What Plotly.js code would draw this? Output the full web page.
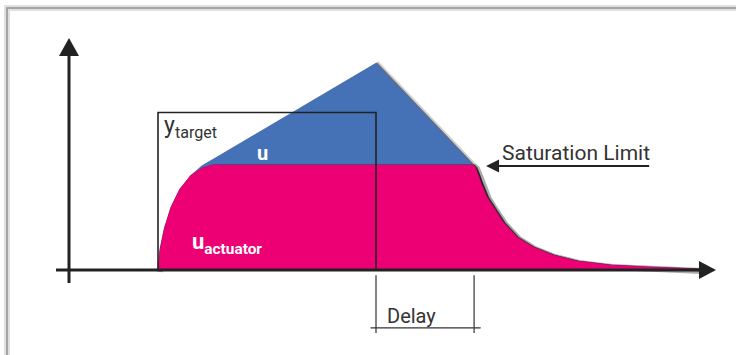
<!DOCTYPE html>
<html>
<head>
<meta charset="utf-8">
<script src="https://cdn.plot.ly/plotly-3.0.1.min.js"></script>
<style>
  html, body { margin: 0; padding: 0; background: #fff; }
  #graph { width: 736px; height: 355px; }
</style>
</head>
<body>
<div id="graph"></div>
<script>
// time axis: step starts at t = 0, target ends at t = 10
// amplitude: saturation limit = 1, target = 1.5

var tU = [0, 0.1, 0.3, 0.6, 1.0, 1.5, 2.0, 10.0, 14.45, 14.55, 14.65, 14.8, 15.09, 15.37, 15.83, 16.47, 17.2, 18.12, 19.22, 20.73, 22.43, 24.86];
var u = [0, 0.2, 0.4, 0.6, 0.77, 0.9, 0.99, 1.97, 1.0, 0.98, 0.93, 0.84, 0.695, 0.6, 0.457, 0.314, 0.219, 0.143, 0.086, 0.048, 0.029, 0.01];

var tAct = [0, 0.1, 0.3, 0.6, 1.0, 1.5, 2.0, 2.5, 14.45, 14.55, 14.65, 14.8, 15.09, 15.37, 15.83, 16.47, 17.2, 18.12, 19.22, 20.73, 22.43, 24.86];
var uActuator = [0, 0.2, 0.4, 0.6, 0.77, 0.9, 0.97, 1.0, 1.0, 0.98, 0.93, 0.84, 0.695, 0.6, 0.457, 0.314, 0.219, 0.143, 0.086, 0.048, 0.029, 0.01];

var tTarget = [0, 0, 10, 10];
var yTarget = [0, 1.5, 1.5, 0];

var saturation = 1.0;
var delayStart = 10;
var delayEnd = 14.5;

// pixel scale of the drawing
var pxPerT = 21.8;
var pxPerY = 105;
var x0px = 158, y0px = 270;

var blue = '#4571b7';
var pink = '#ec0074';
var ink = '#222222';

function shift(arr, d) {
    return arr.map(function (v) { return v + d; });
}

var dx = 2 / pxPerT, dy = -2 / pxPerY;

var traces = [
    { x: shift(tU, dx), y: shift(u, dy), type: 'scatter', mode: 'lines', fill: 'tozeroy',
      fillcolor: 'rgba(0,0,0,0.2)', line: { color: 'rgba(0,0,0,0.18)', width: 6 } },
    { x: shift(tU, dx / 2), y: shift(u, dy / 2), type: 'scatter', mode: 'lines',
      line: { color: 'rgba(0,0,0,0.45)', width: 2.5 } },
    { x: tU, y: u, type: 'scatter', mode: 'lines', fill: 'tozeroy', fillcolor: blue,
      line: { color: blue, width: 0.5 }, name: 'u' },
    { x: shift(tAct, dx), y: shift(uActuator, dy), type: 'scatter', mode: 'lines', fill: 'tozeroy',
      fillcolor: 'rgba(0,0,0,0.2)', line: { color: 'rgba(0,0,0,0.18)', width: 6 } },
    { x: shift(tAct, dx / 2), y: shift(uActuator, dy / 2), type: 'scatter', mode: 'lines',
      line: { color: 'rgba(0,0,0,0.45)', width: 2.5 } },
    { x: tAct, y: uActuator, type: 'scatter', mode: 'lines', fill: 'tozeroy', fillcolor: pink,
      line: { color: pink, width: 0.5 }, name: 'u actuator' },
    { x: tTarget, y: yTarget, type: 'scatter', mode: 'lines',
      line: { color: ink, width: 1.6 }, name: 'y target' }
];

// axis ends
var yAxT = (69 - x0px) / pxPerT;
var xAxStart = (56 - x0px) / pxPerT;
var xAxEnd = (699 - x0px) / pxPerT;
var xTip = (716 - x0px) / pxPerT;
var yAxBottom = (y0px - 283) / pxPerY;
var yAxEnd = (y0px - 56) / pxPerY;
var yTip = (y0px - 38) / pxPerY;
var halfW = 10 / pxPerT;
var halfH = 9 / pxPerY;

var shapes = [
    // card border shadow
    { type: 'rect', xref: 'paper', yref: 'paper', x0: 7 / 736, x1: 1.05, y0: -0.05, y1: 1 - 8 / 355,
      line: { color: 'rgba(0,0,0,0.12)', width: 6 } },
    { type: 'rect', xref: 'paper', yref: 'paper', x0: 7 / 736, x1: 1.05, y0: -0.05, y1: 1 - 8 / 355,
      line: { color: 'rgba(0,0,0,0.35)', width: 1.5 } },
    // axes
    { type: 'line', x0: yAxT, x1: yAxT, y0: yAxBottom, y1: yAxEnd, line: { color: ink, width: 3 } },
    { type: 'line', x0: xAxStart, x1: xAxEnd, y0: 0, y1: 0, line: { color: ink, width: 3 } },
    { type: 'path', path: 'M' + (yAxT - halfW) + ',' + yAxEnd + ' L' + yAxT + ',' + yTip + ' L' + (yAxT + halfW) + ',' + yAxEnd + ' Z',
      fillcolor: ink, line: { width: 0 } },
    { type: 'path', path: 'M' + xAxEnd + ',' + (-halfH) + ' L' + xTip + ',0 L' + xAxEnd + ',' + halfH + ' Z',
      fillcolor: ink, line: { width: 0 } },
    // delay bracket
    { type: 'line', x0: delayStart, x1: delayStart, y0: -0.05, y1: -0.6, line: { color: '#333', width: 1.2 } },
    { type: 'line', x0: delayEnd, x1: delayEnd, y0: -0.05, y1: -0.6, line: { color: '#333', width: 1.2 } },
    { type: 'line', x0: delayStart - 0.25, x1: delayEnd + 0.3, y0: -0.552, y1: -0.552, line: { color: '#333', width: 1.2 } }
];

var annotations = [
    { x: 0.2, y: 1.36, xanchor: 'left', yanchor: 'middle', showarrow: false,
      text: 'y<sub>target</sub>', font: { family: 'Roboto', size: 23, color: '#333' } },
    { x: 4.8, y: 1.11, xanchor: 'center', yanchor: 'middle', showarrow: false,
      text: '<b>u</b>', font: { family: 'Roboto', size: 20, color: '#fff' } },
    { x: 1.45, y: 0.25, xanchor: 'left', yanchor: 'middle', showarrow: false,
      text: '<b>u<sub>actuator</sub></b>', font: { family: 'Roboto', size: 22, color: '#fff' } },
    { x: 15.7, y: 1.11, xanchor: 'left', yanchor: 'middle', showarrow: false,
      text: 'Saturation Limit', font: { family: 'Roboto', size: 21, color: '#333' } },
    { x: 15.05, y: saturation - 0.01, ax: 22.6, ay: saturation - 0.01, axref: 'x', ayref: 'y',
      text: '', showarrow: true, arrowhead: 2, arrowsize: 1.3, arrowwidth: 2, arrowcolor: ink },
    { x: delayStart + 0.4, y: -0.44, xanchor: 'left', yanchor: 'middle', showarrow: false,
      text: 'Delay', font: { family: 'Roboto', size: 20, color: '#333' } }
];

var layout = {
    width: 736,
    height: 355,
    margin: { l: 0, r: 0, t: 0, b: 0 },
    paper_bgcolor: '#fff',
    plot_bgcolor: '#fff',
    showlegend: false,
    hovermode: false,
    xaxis: { range: [-x0px / pxPerT, (736 - x0px) / pxPerT], visible: false, fixedrange: true },
    yaxis: { range: [(y0px - 355) / pxPerY, y0px / pxPerY], visible: false, fixedrange: true },
    shapes: shapes,
    annotations: annotations
};

Plotly.newPlot('graph', traces, layout, { displayModeBar: false, staticPlot: true });
</script>
</body>
</html>
